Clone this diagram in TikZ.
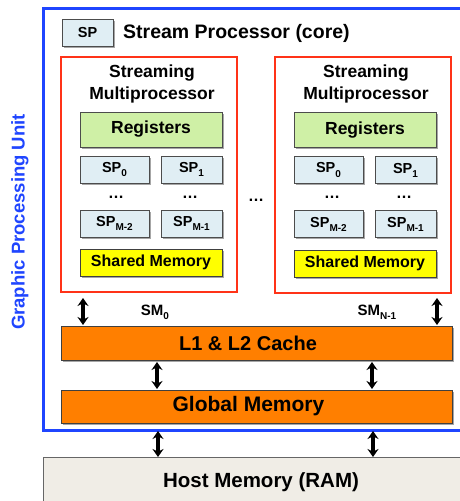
\documentclass[tikz,border=0pt]{standalone}
\usepackage{fontspec}
\setmainfont{Liberation Sans}
\usetikzlibrary{shadows,arrows.meta}
\definecolor{gpublue}{HTML}{1F45FF}
\definecolor{smred}{HTML}{FF3318}
\definecolor{spfill}{HTML}{E0EEF4}
\definecolor{regfill}{HTML}{CFF0A6}
\definecolor{shfill}{HTML}{FFFF00}
\definecolor{orangefill}{HTML}{FF7F00}
\definecolor{hostfill}{HTML}{F0EDE6}
\newcommand{\fsz}[1]{\fontsize{#1}{#1}\selectfont}
\newcommand{\sbs}[1]{\raisebox{-0.28em}{\fsz{10}#1}}
\tikzset{
  shad/.style={drop shadow={shadow xshift=1.5pt,shadow yshift=-1.5pt,opacity=0.35,fill=black}},
  spbox/.style={shad,draw=black!70,line width=0.8pt,fill=spfill,inner sep=0pt,font=\bfseries\fsz{14.5},minimum height=27},
  regbox/.style={shad,draw=black!70,line width=0.8pt,fill=regfill,inner sep=0pt,font=\bfseries\fsz{17.5},minimum width=142,minimum height=35},
  shbox/.style={shad,draw=black!75,line width=0.8pt,fill=shfill,inner sep=0pt,font=\bfseries\fsz{16},minimum width=142,minimum height=27},
  smbox/.style={draw=smred,line width=2.2pt,minimum width=176,minimum height=235,inner sep=0pt},
  membox/.style={shad,draw=black!75,line width=0.8pt,fill=orangefill,inner sep=0pt,minimum width=391},
  dblarrow/.style={line width=3.4pt,{Stealth[length=8pt,width=11pt]}-{Stealth[length=8pt,width=11pt]}},
  lbl/.style={inner sep=0pt,font=\bfseries\fsz{15}},
  dots/.style={inner sep=0pt,font=\bfseries\fsz{16}},
  smtitle/.style={align=center,inner sep=0pt,font=\bfseries\fsz{17.5}}
}
\begin{document}
\begin{tikzpicture}[x=1pt,y=-1pt]
\useasboundingbox (0,0) rectangle (460,501);
\fill[white] (0,0) rectangle (460,501);
% GPU frame
\draw[gpublue,line width=3pt] (480,8) -- (43,8) -- (43,430) -- (480,430);
\node[rotate=90,text=gpublue,inner sep=0pt,font=\bfseries\fsz{18.5}] (gpu) at (20,222) {Graphic Processing Unit};
% legend
\node[spbox,minimum width=51] (legsp) at (87.5,33) {SP};
\node[anchor=west,inner sep=0pt,font=\bfseries\fsz{19.5}] (legtxt) at (123,33) {Stream Processor (core)};
% left SM
\node[smbox] (sm0) at (149,174.5) {};
\node[smtitle] (sm0t) at (152,84) {Streaming\\[4pt]Multiprocessor};
\node[regbox] (reg0) at (151,129.5) {Registers};
\node[spbox,minimum width=69] (a0) at (114.5,169.5) {SP\sbs{0}};
\node[spbox,minimum width=61] (a1) at (191.5,169.5) {SP\sbs{1}};
\node[dots] (ad0) at (116,197) {\dots};
\node[dots] (ad1) at (190,197) {\dots};
\node[spbox,minimum width=69] (a2) at (114.5,223.5) {SP\sbs{M-2}};
\node[spbox,minimum width=61] (a3) at (191.5,223.5) {SP\sbs{M-1}};
\node[shbox] (sh0) at (151,262.5) {Shared Memory};
% middle dots
\node[dots] (mid) at (256,200) {\dots};
% right SM
\node[smbox,minimum height=236] (sm1) at (363,175) {};
\node[smtitle] (sm1t) at (366,84) {Streaming\\[4pt]Multiprocessor};
\node[regbox] (reg1) at (365,130) {Registers};
\node[spbox,minimum width=69] (b0) at (328.5,170) {SP\sbs{0}};
\node[spbox,minimum width=61] (b1) at (405.5,170) {SP\sbs{1}};
\node[dots] (bd0) at (332,197) {\dots};
\node[dots] (bd1) at (404,197) {\dots};
\node[spbox,minimum width=69] (b2) at (328.5,224) {SP\sbs{M-2}};
\node[spbox,minimum width=61] (b3) at (405.5,224) {SP\sbs{M-1}};
\node[shbox] (sh1) at (365,263.5) {Shared Memory};
% labels
\node[lbl] (sm0l) at (155,312) {SM\sbs{0}};
\node[lbl] (sm1l) at (377,312) {SM\sbs{N-1}};
% memories
\node[membox,minimum height=34] (l12) at (256.5,343) {};
\node[inner sep=0pt,font=\bfseries\fsz{20}] (l12t) at (248,343) {L1 \& L2 Cache};
\node[membox,minimum height=33] (glob) at (256.5,406.5) {};
\node[inner sep=0pt,font=\bfseries\fsz{21}] (globt) at (248.5,406.5) {Global Memory};
\node[draw=black!60,line width=0.8pt,fill=hostfill,minimum width=440,minimum height=60,inner sep=0pt] (host) at (263,487) {};
\node[inner sep=0pt,font=\bfseries\fsz{20.5}] (hostt) at (261,482) {Host Memory (RAM)};
% arrows
\coordinate (p1) at (83,298); \coordinate (q1) at (83,325);
\coordinate (p2) at (437,298); \coordinate (q2) at (437,325);
\coordinate (p3) at (157,362); \coordinate (q3) at (157,389);
\coordinate (p4) at (372,362); \coordinate (q4) at (372,389);
\coordinate (p5) at (158,431); \coordinate (q5) at (158,457);
\coordinate (p6) at (373,431); \coordinate (q6) at (373,457);
\draw[dblarrow] (p1) -- (q1);
\draw[dblarrow] (p2) -- (q2);
\draw[dblarrow] (p3) -- (q3);
\draw[dblarrow] (p4) -- (q4);
\draw[dblarrow] (p5) -- (q5);
\draw[dblarrow] (p6) -- (q6);
\end{tikzpicture}
\end{document}
